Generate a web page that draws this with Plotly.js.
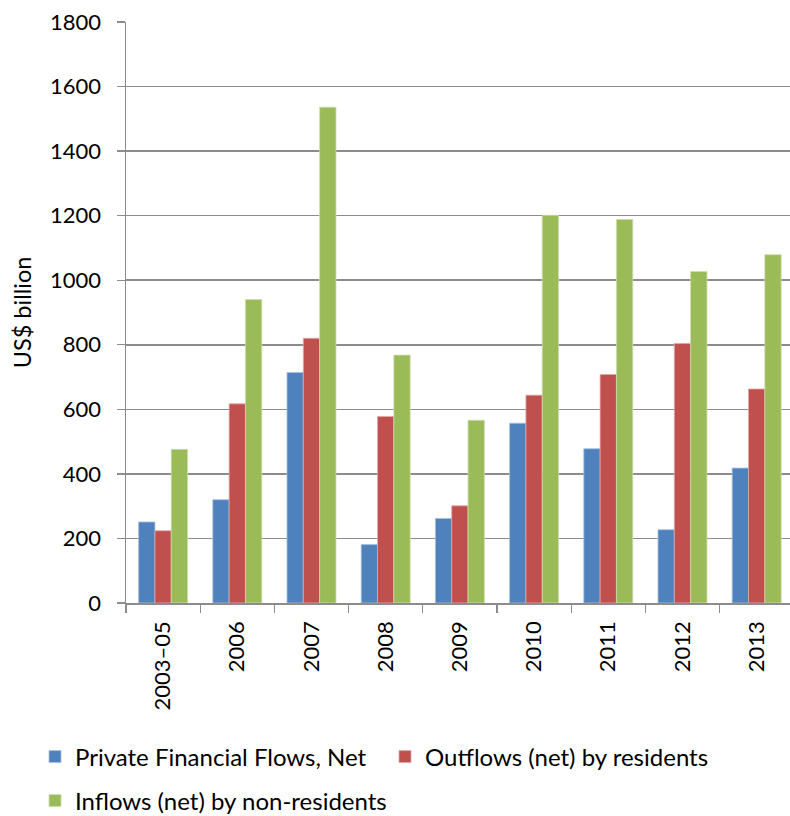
<!DOCTYPE html>
<html>
<head>
<meta charset="utf-8">
<script src="https://cdn.plot.ly/plotly-3.0.1.min.js"></script>
<style>
html,body{margin:0;padding:0;background:#fff;overflow:hidden;}
#chart{width:790px;height:816px;}
</style>
</head>
<body>
<div id="chart"></div>
<script>
var categories = ["2003–05","2006","2007","2008","2009","2010","2011","2012","2013"];
var netFlows = [251, 320, 714, 181, 262, 557, 478, 227, 418];
var outflowsResidents = [224, 617, 820, 578, 301, 644, 708, 804, 663];
var inflowsNonResidents = [476, 940, 1536, 768, 566, 1201, 1188, 1027, 1079];
var seriesNames = ["Private Financial Flows, Net","Outflows (net) by residents","Inflows (net) by non-residents"];
var colors = ["#4F81BD","#C0504D","#9BBB59"];
var edgeColors = ["#a7c0de","#e0a8a6","#cddcab"];

var fam = "Lato, 'Open Sans', sans-serif";
var font = {family: fam, size: 22, color: "#000"};
var legendFont = {family: fam, size: 24, color: "#000"};
var titleFont = {family: fam, size: 23.5, color: "#000"};

function mk(i, vals, legendId) {
  return {
    type: "bar", x: categories, y: vals, name: seriesNames[i],
    marker: {color: colors[i], line: {color: edgeColors[i], width: 0.8}},
    legend: legendId, hoverinfo: "x+y+name"
  };
}

var data = [
  mk(0, netFlows, "legend"),
  mk(1, outflowsResidents, "legend"),
  mk(2, inflowsNonResidents, "legend2")
];

var layout = {
  width: 790, height: 816,
  margin: {l: 126, r: 0, t: 22, b: 213, autoexpand: false},
  paper_bgcolor: "#fff", plot_bgcolor: "#fff",
  font: font,
  barmode: "group", bargap: 0.34, bargroupgap: 0,
  xaxis: {
    type: "category", range: [-0.5, 8.449],
    tickson: "boundaries", ticks: "outside", ticklen: 8, tickwidth: 1.3, tickcolor: "#8c8c8c",
    showline: true, linecolor: "#8c8c8c", linewidth: 1.5,
    showgrid: false, tickangle: -90, tickfont: font, ticklabelstandoff: 8,
    automargin: false
  },
  yaxis: {
    range: [0, 1800], dtick: 200, tick0: 0,
    ticks: "outside", ticklen: 8, tickwidth: 1.3, tickcolor: "#8c8c8c",
    showline: true, linecolor: "#8c8c8c", linewidth: 1.5,
    showgrid: true, gridcolor: "#8c8c8c", gridwidth: 1.5,
    zeroline: false, tickfont: font, ticklabelstandoff: 11,
    title: {text: "US$ billion", font: titleFont, standoff: 12},
    automargin: false
  },
  legend: {
    orientation: "h", xanchor: "left", yref: "paper",
    font: legendFont, bgcolor: "rgba(0,0,0,0)", traceorder: "normal",
    entrywidth: 305
  },
  legend2: {
    orientation: "h", font: legendFont, bgcolor: "rgba(0,0,0,0)"
  },
  showlegend: true
};

// legend positions in paper fraction (plot area: top 22, bottom 603)
var plotH = 816 - 22 - 213;
var plotW = 790 - 126;
function py(pix){ return (603 - pix) / plotH; }
function px(pix){ return (pix - 126) / plotW; }
layout.legend.x = px(35);
layout.legend.y = py(757);
layout.legend.yanchor = "middle";
layout.legend2.x = px(35);
layout.legend2.y = py(801);
layout.legend2.xanchor = "left";
layout.legend2.yanchor = "middle";

Plotly.newPlot("chart", data, layout, {displayModeBar: false, staticPlot: true});
</script>
</body>
</html>
